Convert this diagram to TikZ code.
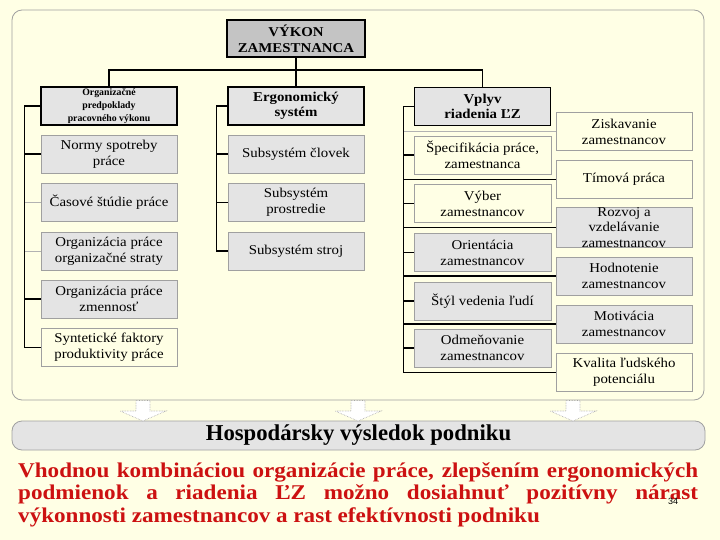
\documentclass[tikz,border=0pt]{standalone}
\usepackage{fontspec}
\setmainfont{Liberation Serif}
\newfontfamily\wideserif[FakeStretch=1.1]{Liberation Serif}
\newfontfamily\sansf{Liberation Sans}
\definecolor{bg}{RGB}{255,255,229}
\definecolor{boxgray}{RGB}{228,228,228}
\definecolor{topgray}{RGB}{196,196,196}
\definecolor{redtext}{RGB}{204,17,17}
\definecolor{edge}{RGB}{160,160,160}
\begin{document}
\begin{tikzpicture}[x=1pt,y=-1pt,
  gbox/.style={draw=edge, fill=boxgray, line width=0.6pt, minimum width=136pt, minimum height=38pt,
     inner sep=0pt, align=center, font=\wideserif\fontsize{13.5}{16}\selectfont},
  ybox/.style={gbox, fill=bg},
  hbox/.style={draw=black, line width=1.6pt, fill=boxgray, minimum width=136pt, minimum height=38pt,
     inner sep=0pt, align=center, font=\wideserif\fontsize{13.5}{15.5}\selectfont\bfseries},
  topbox/.style={draw=black, line width=2.6pt, fill=topgray, minimum width=138pt, minimum height=37pt,
     inner sep=0pt, align=center, font=\wideserif\fontsize{13.5}{16}\selectfont\bfseries},
  conn/.style={line width=1.2pt, black},
  fconn/.style={line width=0.6pt, gray!60},
  frame/.style={draw=edge, line width=0.8pt, rounded corners=10pt},
  bigarrow/.style={draw=gray!70, fill=white, line width=0.6pt, densely dotted}
]
\useasboundingbox (0,0) rectangle (720,540);
\fill[bg] (0,0) rectangle (720,540);
\draw[frame] (12,10) rectangle (704,400);

% top
\node[topbox] (top) at (296,38.5) {VÝKON\\ZAMESTNANCA};
\node[hbox, font=\fontsize{9.8}{13}\selectfont\bfseries] (org) at (109,106) {Organizačné\\predpoklady\\pracovného výkonu};
\node[hbox] (erg) at (296,106) {Ergonomický\\systém};
\node[hbox] (vpl) at (482.5,106.5) {Vplyv\\riadenia ĽZ};

% left column
\node[gbox] (norm) at (109,154) {Normy spotreby\\práce};
\node[gbox] (cas) at (109,202.5) {Časové štúdie práce};
\node[gbox] (str) at (109,251) {Organizácia práce\\organizačné straty};
\node[gbox] (zmen) at (109,299) {Organizácia práce\\zmennosť};
\node[ybox] (syn) at (109,347.5) {Syntetické faktory\\produktivity práce};

% middle column
\node[gbox] (clov) at (296,154) {Subsystém človek};
\node[gbox] (pros) at (296,202.5) {Subsystém\\prostredie};
\node[gbox] (stroj) at (296,251) {Subsystém stroj};

% inner right column
\node[ybox, minimum width=137pt] (spec) at (482.5,155) {Špecifikácia práce,\\zamestnanca};
\node[ybox, minimum width=137pt] (vyb) at (482.5,203.5) {Výber\\zamestnancov};
\node[gbox, minimum width=137pt] (ori) at (482.5,252.5) {Orientácia\\zamestnancov};
\node[gbox, minimum width=137pt] (styl) at (482.5,301) {Štýl vedenia ľudí};
\node[gbox, minimum width=137pt] (odm) at (482.5,348) {Odmeňovanie\\zamestnancov};

% far right column
\node[ybox] (zisk) at (624,131.5) {Ziskavanie\\zamestnancov};
\node[ybox] (tim) at (624,179.5) {Tímová práca};
\node[gbox, minimum height=37pt, font=\wideserif\fontsize{13.5}{15.5}\selectfont] (roz) at (624,227.5) {Rozvoj a\\vzdelávanie\\zamestnancov};
\node[gbox] (hod) at (624,276) {Hodnotenie\\zamestnancov};
\node[gbox] (mot) at (624,324) {Motivácia\\zamestnancov};
\node[ybox] (kval) at (624,372.5) {Kvalita ľudského\\potenciálu};

% top connectors
\coordinate (bus) at (296,70);
\draw[conn] (top.south) -- (erg.north);
\draw[conn] (org.north) |- (bus) -| (vpl.north);

% left spine
\draw[conn] (org.west) -- ++(-16,0) |- (syn.west);
\draw[conn] (norm.west) -- ++(-16,0);
\draw[fconn] (cas.west) -- ++(-16,0);
\draw[fconn] (str.west) -- ++(-16,0);
\draw[conn] (zmen.west) -- ++(-16,0);

% middle spine
\draw[conn] (erg.west) -- ++(-11,0) |- (stroj.west);
\draw[conn] (clov.west) -- ++(-11,0);
\draw[conn] (pros.west) -- ++(-11,0);

% right spine
\coordinate (rsp) at (404,0);
\draw[conn] (vpl.west) -- ++(-10.5,0) |- (kval.west);
\draw[conn] (spec.west) -- ++(-10.5,0);
\draw[conn] (vyb.west) -- ++(-10.5,0);
\draw[conn] (ori.west) -- ++(-10.5,0);
\draw[conn] (styl.west) -- ++(-10.5,0);
\draw[conn] (odm.west) -- ++(-10.5,0);
\draw[fconn] (zisk.west) -- (zisk.west -| rsp);
\draw[conn] (tim.west) -- (tim.west -| rsp);
\draw[conn] (roz.west) -- (roz.west -| rsp);
\draw[conn] (hod.west) -- (hod.west -| rsp);
\draw[conn] (mot.west) -- (mot.west -| rsp);

% bottom bar
\node[draw=edge, fill=boxgray, line width=0.8pt, rounded corners=10pt, minimum width=693pt, minimum height=29pt,
      inner sep=0pt, font=\fontsize{22.7}{24}\selectfont\bfseries] (bar) at (358.5,435.5) {Hospodársky výsledok podniku};

% block arrows
\foreach \cx in {143,358,573}{
  \draw[bigarrow] (\cx-7,400.5) -- (\cx+7,400.5) -- (\cx+7,411) -- (\cx+23,411) -- (\cx,421) -- (\cx-23,411) -- (\cx-7,411) -- cycle;
}

% red paragraph
\node[anchor=base west, inner sep=0pt, text=redtext, font=\wideserif\fontsize{21}{22.5}\selectfont\bfseries] (para) at (18,477)
 {\parbox[t]{680pt}{\parindent=0pt Vhodnou kombináciou organizácie práce, zlepšením ergonomických\linebreak
 podmienok a riadenia ĽZ možno dosiahnuť pozitívny nárast\linebreak
 výkonnosti zamestnancov a rast efektívnosti podniku}};
\node[font=\fontsize{9}{9}\sansf] (num) at (673,501) {34};
\end{tikzpicture}
\end{document}
